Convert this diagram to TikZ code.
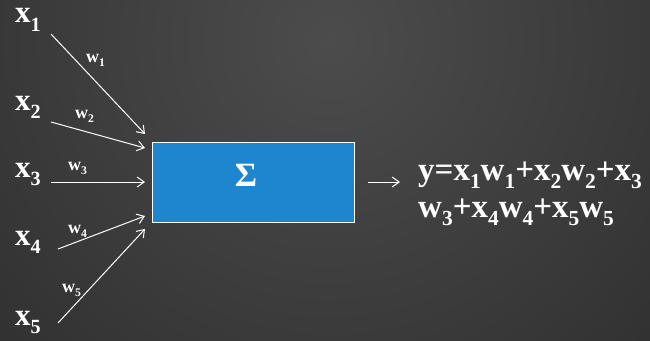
\documentclass[tikz,border=0pt]{standalone}
\usepackage{fontspec}
\setmainfont{Liberation Serif}
\usepackage{tikz}
\usetikzlibrary{arrows.meta}
\definecolor{slatedark}{HTML}{2D2D2D}
\definecolor{slatelight}{HTML}{4C4C4C}
\definecolor{sumblue}{HTML}{1E86CE}
\newcommand{\lsub}[1]{\raisebox{-0.27em}[0pt][0pt]{\scalebox{0.65}{#1}}}

\begin{document}
\begin{tikzpicture}[
  x=1pt, y=-1pt,
  inp/.style={anchor=base west, inner sep=0pt, text=white,
              font=\fontsize{31}{31}\selectfont\bfseries},
  wlab/.style={anchor=base west, inner sep=0pt, text=white,
               font=\fontsize{18}{18}\selectfont\bfseries},
  sumbox/.style={draw=white, line width=0.8pt, fill=sumblue,
                 minimum width=202pt, minimum height=80pt, inner sep=0pt},
  arr/.style={-{Straight Barb[length=7pt,width=10pt]}, white, line width=1pt},
]
  % background
  \useasboundingbox (0,0) rectangle (650,340);
  \begin{scope}
    \clip (0,0) rectangle (650,340);
    \shade[inner color=slatelight, outer color=slatedark] (330,40) circle (520);
  \end{scope}

  % inputs
  \node[inp] (x1) at (15,23)  {x\lsub{1}};
  \node[inp] (x2) at (15,110) {x\lsub{2}};
  \node[inp] (x3) at (15,177) {x\lsub{3}};
  \node[inp] (x4) at (15,245) {x\lsub{4}};
  \node[inp] (x5) at (15,325) {x\lsub{5}};

  % weights
  \node[wlab] (w1) at (86,62)  {w\lsub{1}};
  \node[wlab] (w2) at (75,118) {w\lsub{2}};
  \node[wlab] (w3) at (68,170) {w\lsub{3}};
  \node[wlab] (w4) at (68,233) {w\lsub{4}};
  \node[wlab] (w5) at (62,292) {w\lsub{5}};

  % summation unit
  \node[sumbox] (box) at (253,182) {};
  \node[anchor=base, inner sep=0pt, text=white,
        font=\fontsize{34}{34}\selectfont\bfseries] (sigma) at (246,186) {Σ};

  % output (base = last line)
  \node[anchor=base west, inner sep=0pt, text=white, align=left,
        font=\fontsize{33}{37}\selectfont\bfseries] (out) at (418,217)
    {y=x\lsub{1}w\lsub{1}+x\lsub{2}w\lsub{2}+x\lsub{3}\\
     w\lsub{3}+x\lsub{4}w\lsub{4}+x\lsub{5}w\lsub{5}};

  % arrow ends
  \coordinate (t1) at (51,34);   \coordinate (h1) at (145,134);
  \coordinate (t2) at (51,122);  \coordinate (h2) at (145,148);
  \coordinate (t3) at (51,182);  \coordinate (h3) at (145,182);
  \coordinate (t4) at (58,249);  \coordinate (h4) at (145,216);
  \coordinate (t5) at (58,323);  \coordinate (h5) at (145,229);
  \coordinate (yhead) at (400,182);

  \draw[arr] (t1) -- (h1);
  \draw[arr] (t2) -- (h2);
  \draw[arr] (t3) -- (h3);
  \draw[arr] (t4) -- (h4);
  \draw[arr] (t5) -- (h5);
  \draw[arr, shorten <=14pt] (box.east) -- (yhead);
\end{tikzpicture}
\end{document}
